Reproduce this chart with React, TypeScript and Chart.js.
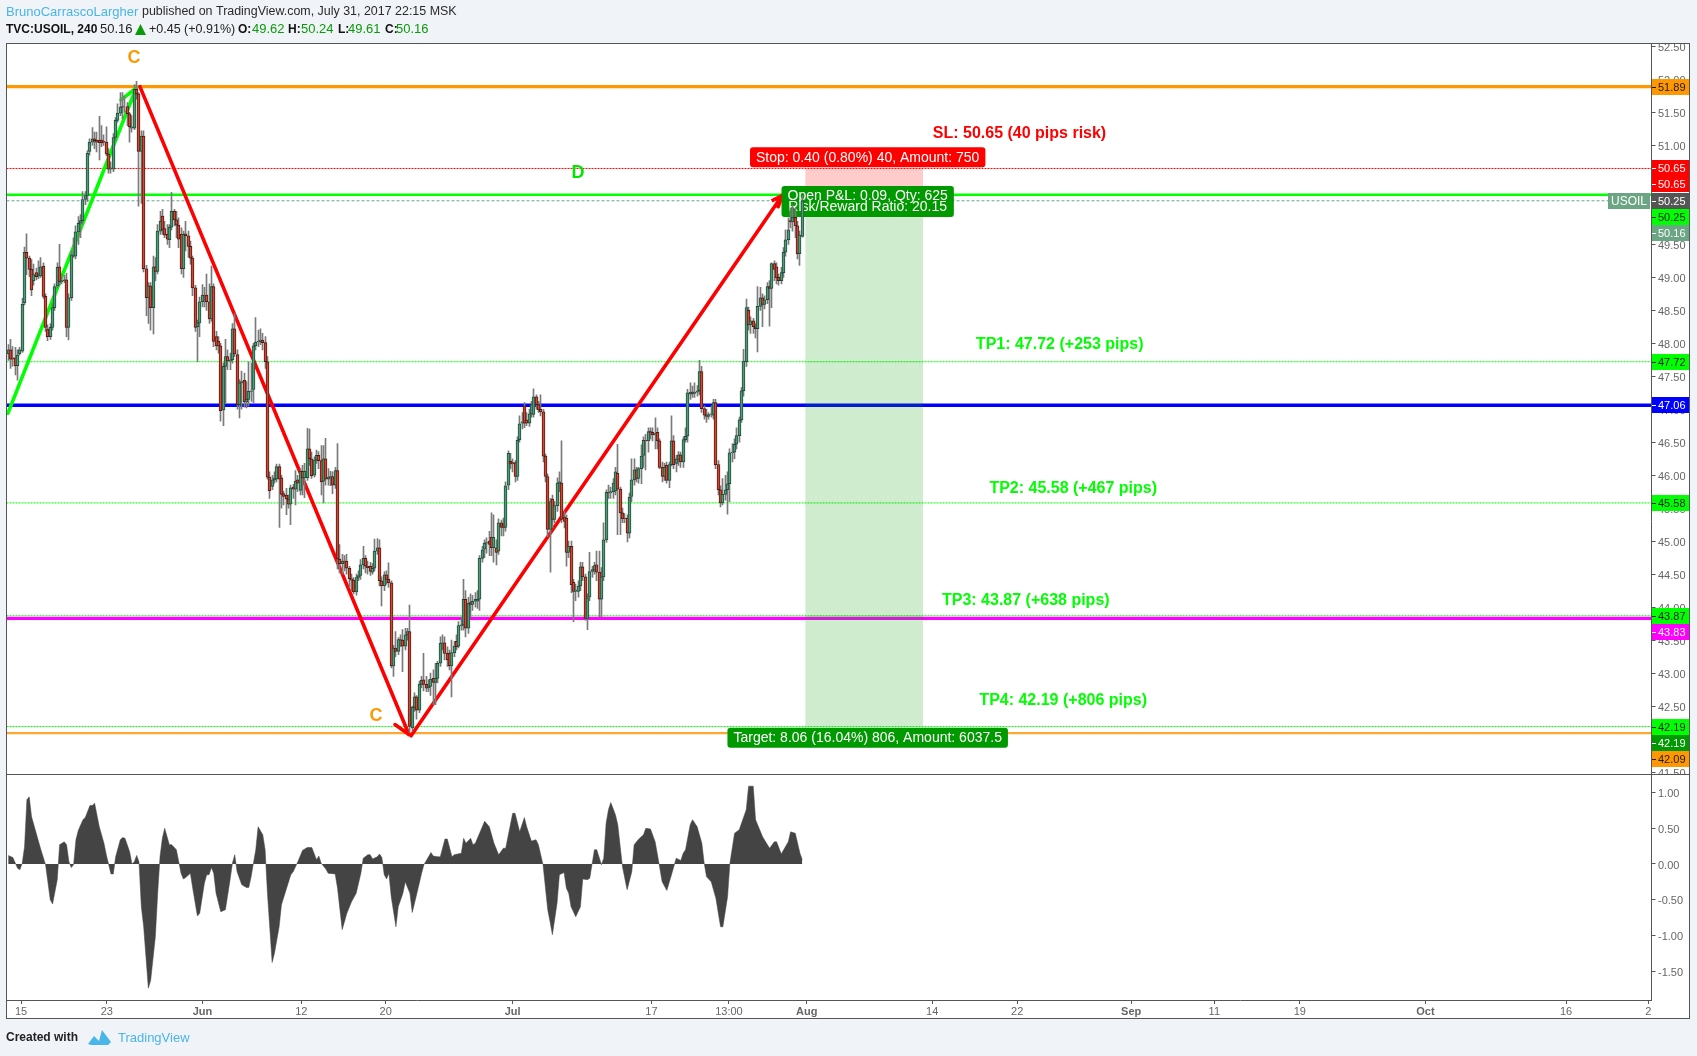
import { useEffect, useRef } from 'react';
import { Chart, registerables } from 'chart.js';
Chart.register(...registerables);

// Candles as [open, close, high, low], one row per 4h bar
const mayBars = [
[47.84,47.90,47.98,47.74],[47.90,47.76,48.06,47.62],[47.78,47.76,47.95,47.65],[47.78,47.66,47.94,47.52],[47.66,47.82,47.90,47.44],[47.84,47.90,47.94,47.82],[47.88,48.59,48.68,47.86],[48.61,49.38,49.46,48.58],[49.38,49.29,49.66,49.04],[49.29,49.12,49.32,49.01],
[49.12,48.81,49.27,48.72],[48.95,49.04,49.20,48.88],[49.07,49.01,49.14,48.96],[49.02,49.05,49.25,48.98],[49.02,49.16,49.30,49.00],[49.17,48.71,49.22,48.68],[48.71,48.24,48.75,48.18],[48.22,48.10,48.28,48.04],[48.10,48.24,48.30,48.06],[48.24,48.54,48.60,48.20],
[48.54,48.86,48.90,48.50],[48.87,49.15,49.22,48.84],[49.16,48.93,49.50,48.88],[48.93,48.95,49.05,48.90],[48.95,48.96,49.03,48.92],[48.96,48.24,49.06,48.10],[48.24,48.69,48.75,48.05],[48.69,49.34,49.40,48.65],[49.32,49.34,49.60,49.30],[49.32,49.69,49.78,49.28],
[49.69,49.82,49.92,49.50],[49.82,49.86,49.95,49.60],[49.86,50.18,50.30,49.80],[50.18,50.24,50.30,50.10],[50.24,50.88,50.92,50.15],[50.91,51.05,51.10,50.85],[51.05,51.10,51.27,51.00],[51.10,51.07,51.20,50.95],[51.08,51.05,51.20,50.90],[51.08,51.04,51.44,50.78],
[51.08,51.04,51.30,50.98],[51.06,51.05,51.16,51.00],[51.05,50.87,51.28,50.84],[50.87,50.64,50.95,50.58],[50.64,50.66,50.75,50.58],[50.64,51.12,51.18,50.60],[51.12,51.38,51.42,51.08],[51.38,51.49,51.63,51.35],[51.49,51.58,51.80,51.45],[51.59,51.58,51.80,51.40],
[51.59,51.59,51.75,51.50],[51.59,51.48,51.65,51.30],[51.48,51.28,51.50,51.05],[51.26,51.28,51.45,51.20],[51.26,51.85,51.92,51.24],[51.85,51.78,51.97,51.70],[51.78,50.91,51.80,50.08],[50.91,51.14,51.22,50.12],[51.14,49.13,51.22,49.08],[49.13,48.69,49.18,48.42],
[48.69,48.87,48.92,48.30],[48.87,48.54,48.92,48.20],[48.54,49.16,49.32,48.14],[49.16,49.09,49.30,48.95],[49.09,49.70,49.80,49.05],[49.70,49.85,50.00,49.65],[49.93,49.72,50.03,49.65],[49.74,49.64,49.85,49.60],[49.65,49.58,49.80,49.50],[49.57,49.76,49.80,49.45],
[49.76,50.00,50.29,49.72],[50.00,49.87,50.03,49.78],[49.87,49.79,50.00,49.60],[49.79,49.58,49.90,49.45],[49.65,49.13,49.75,49.05],[49.13,49.65,49.70,49.00],[49.66,49.63,49.85,49.40],[49.63,49.47,49.70,49.30],[49.47,49.29,49.55,49.20],[49.29,48.84,49.32,48.72],
[48.84,48.24,48.88,48.18],[48.25,48.31,48.35,47.72],[48.31,48.63,48.70,48.10],
];
const juneBars = [
[48.63,48.73,48.89,48.55],[48.73,48.72,48.85,48.55],[48.73,48.63,49.05,48.50],[48.63,48.37,48.90,48.30],[48.37,48.86,49.17,48.33],[48.86,48.03,48.90,47.95],[48.10,47.96,48.18,47.90],[48.03,47.96,48.10,47.85],[47.96,46.98,48.00,46.82],[46.99,47.65,47.70,46.75],
[47.65,47.80,48.06,47.10],[47.80,47.73,47.90,47.60],[47.73,47.75,47.85,47.60],[47.75,48.22,48.30,47.70],[48.22,47.84,48.45,47.80],[47.83,47.07,47.90,47.00],[47.07,47.40,47.45,46.87],[47.40,47.42,47.58,47.00],[47.44,47.11,47.55,47.03],[47.11,47.15,47.42,47.02],
[47.15,47.27,47.72,47.05],[47.27,47.28,47.70,47.12],[47.30,47.96,48.00,47.10],[47.96,48.02,48.39,47.90],[48.02,48.03,48.20,47.95],[48.03,48.05,48.22,47.98],[48.05,48.01,48.15,47.90],[48.01,47.72,48.10,47.62],[47.72,45.97,47.80,45.94],[45.97,45.76,46.05,45.65],
[45.83,45.93,46.00,45.78],[45.93,45.96,46.05,45.88],[45.94,46.13,46.17,45.90],[46.13,45.94,46.17,45.21],[45.96,45.71,46.00,45.50],[45.72,45.68,45.76,45.55],[45.70,45.64,45.80,45.40],[45.64,45.56,45.70,45.50],[45.56,45.81,45.85,45.25],[45.82,45.79,45.86,45.65],
[45.79,45.91,46.07,45.55],[45.93,45.88,46.00,45.75],[45.77,46.06,46.10,45.70],[46.06,45.96,46.15,45.70],[45.96,46.06,46.18,45.66],[45.96,46.40,46.71,45.92],[46.40,46.25,46.70,46.15],[46.25,45.99,46.35,45.95],[46.00,46.23,46.28,45.97],[46.23,46.30,46.38,46.18],
[46.30,46.22,46.36,46.10],[46.22,45.90,46.45,45.70],[45.91,46.25,46.45,45.58],[46.25,45.94,46.56,45.85],[45.94,45.97,46.10,45.85],[45.97,45.98,46.06,45.84],[45.98,45.85,46.05,45.72],[45.85,46.07,46.12,45.80],[46.07,44.73,46.48,44.58],[44.73,44.66,44.95,44.52],
[44.66,44.70,44.80,44.50],[44.70,44.68,44.78,44.55],[44.70,44.59,44.80,44.50],[44.59,44.43,44.62,44.30],[44.43,44.41,44.50,44.25],[44.41,44.23,44.45,44.20],[44.23,44.45,44.50,44.18],[44.45,44.48,44.55,44.40],[44.48,44.64,44.72,44.42],[44.64,44.74,44.92,44.58],
[44.74,44.62,44.78,44.52],[44.62,44.60,44.70,44.50],[44.62,44.54,44.68,44.48],[44.53,44.59,44.66,44.50],[44.59,44.85,45.03,44.55],[44.85,44.90,45.04,44.80],[44.90,44.40,45.02,44.32],[44.40,44.32,44.46,44.02],[44.32,44.49,44.54,44.25],[44.49,44.42,44.55,44.35],
[44.42,44.37,44.67,44.30],[44.37,43.11,44.40,43.08],[43.11,43.38,43.42,42.95],[43.38,43.33,43.63,43.25],[43.33,43.51,43.54,43.28],[43.51,43.50,43.58,43.40],[43.50,43.41,43.66,43.02],[43.41,43.58,43.68,43.35],[43.58,43.63,43.68,43.50],[43.63,42.19,44.03,42.10],
[42.17,42.48,42.50,42.12],[42.48,42.64,42.70,42.42],[42.64,42.44,42.66,42.30],[42.44,42.83,42.88,42.40],[42.83,42.89,42.95,42.78],[42.90,42.83,43.30,42.73],[42.83,42.77,42.95,42.72],[42.78,42.80,42.90,42.72],[42.80,42.91,43.00,42.66],[42.92,42.86,43.05,42.52],
[42.86,42.92,43.15,42.52],[42.92,43.15,43.18,42.85],[43.15,43.45,43.55,43.10],[43.45,43.46,43.58,43.35],[43.46,43.30,43.55,43.20],[43.30,43.20,43.40,43.10],[43.30,43.11,43.35,43.05],[43.11,43.31,43.50,42.64],[43.31,43.41,43.48,43.25],[43.48,43.40,43.58,43.35],
[43.41,43.72,43.78,43.38],[43.72,43.73,43.85,43.65],[43.73,44.12,44.42,43.65],[44.12,43.68,44.25,43.55],[43.68,44.06,44.15,43.60],[44.07,44.04,44.20,43.85],[44.04,44.09,44.18,43.95],[44.09,44.12,44.22,44.00],[44.09,44.12,44.25,43.98],[44.12,44.74,44.78,43.95],
[44.74,44.87,44.92,44.68],[44.88,44.97,45.02,44.75],[44.97,44.98,45.05,44.82],
];
const julyBars = [
[45.00,44.95,45.15,44.78],[45.06,44.90,45.43,44.78],[44.90,45.06,45.40,44.68],[44.90,44.83,45.02,44.64],[44.85,45.28,45.34,44.80],[45.28,45.21,45.32,45.08],[45.25,45.21,45.35,45.08],[45.21,45.84,45.90,45.15],[45.85,46.33,46.37,45.78],[46.21,46.17,46.33,46.10],
[46.19,46.17,46.25,46.05],[46.19,45.98,46.22,45.90],[45.98,46.53,46.58,45.92],[46.54,46.78,46.90,46.50],[46.79,46.81,46.95,46.70],[47.05,46.79,47.10,46.72],[46.84,46.79,46.95,46.75],[46.79,46.93,47.00,46.74],[46.93,47.07,47.12,46.88],[46.92,47.19,47.31,46.88],
[47.19,47.07,47.22,47.00],[47.07,46.99,47.12,46.95],[47.00,46.96,47.22,46.90],[46.96,46.29,47.00,46.20],[46.29,45.98,46.32,45.90],[45.98,45.18,46.02,45.07],[45.18,45.60,45.65,44.53],[45.64,45.33,45.70,45.20],[45.33,45.54,45.60,45.28],[45.54,45.88,45.96,45.45],
[45.88,45.90,46.05,45.75],[45.88,45.33,46.52,45.28],[45.37,45.30,45.45,45.20],[45.35,44.83,45.40,44.62],[44.83,44.92,45.00,44.75],[44.92,44.34,45.00,44.22],[44.38,44.24,44.42,43.78],[44.24,44.26,44.35,44.10],[44.24,44.32,44.40,44.15],[44.32,44.61,44.68,44.25],
[44.61,44.46,44.68,44.40],[44.46,43.83,44.50,43.80],[43.83,44.14,44.20,43.66],[44.15,44.54,44.83,44.10],[44.54,44.57,44.62,44.45],[44.56,44.63,44.68,44.50],[44.64,44.53,44.85,44.40],[44.53,44.12,44.85,43.85],[44.12,44.46,44.60,43.85],[44.46,45.02,45.28,44.40],
[45.02,45.74,45.78,44.98],[45.74,45.73,45.85,45.65],[45.73,45.75,45.82,45.65],[45.75,45.88,45.95,45.65],[45.76,46.05,46.12,45.70],[46.03,45.79,46.47,45.10],[45.79,45.43,45.82,45.10],[45.43,45.34,45.50,45.28],[45.35,45.34,45.42,45.28],[45.35,45.12,45.40,44.99],
[45.12,45.67,45.73,45.05],[45.68,45.93,46.25,45.60],[45.93,46.08,46.25,45.85],[46.08,45.95,46.12,45.90],[45.95,46.10,46.12,45.88],[46.10,46.29,46.46,45.87],[46.30,46.53,46.58,46.12],[46.53,46.52,46.62,46.08],[46.52,46.66,46.72,46.35],[46.66,46.64,46.72,46.55],
[46.65,46.61,46.72,46.52],[46.61,46.63,46.87,46.40],[46.65,46.52,46.72,46.40],[46.52,46.12,46.55,46.10],[46.12,45.98,46.20,45.90],[45.98,46.12,46.18,45.92],[46.15,45.92,46.20,45.88],[45.92,46.16,46.20,45.81],[46.16,46.52,46.90,46.14],[46.52,46.16,46.60,46.10],
[46.18,46.25,46.30,46.05],[46.24,46.31,46.36,46.15],[46.31,46.20,46.35,46.12],[46.20,46.54,46.58,46.12],[46.54,46.59,46.72,46.50],[46.59,47.25,47.30,46.50],[47.23,47.26,47.40,47.15],[47.26,47.24,47.35,47.18],[47.24,47.26,47.40,47.18],[47.26,47.28,47.36,47.20],
[47.28,47.57,47.74,47.22],[47.57,47.01,47.65,46.95],[47.01,46.91,47.05,46.85],[46.91,46.89,47.00,46.80],[46.89,46.92,46.95,46.85],[46.92,46.93,47.05,46.88],[46.91,47.10,47.15,46.85],[47.10,46.16,47.15,46.10],[46.16,45.78,46.22,45.70],[45.78,45.58,45.84,45.52],
[45.58,45.71,45.95,45.55],[45.71,45.78,46.00,45.62],[45.78,45.87,46.05,45.41],[45.87,46.34,46.40,45.60],[46.34,46.35,46.48,46.20],[46.35,46.47,46.55,46.25],[46.47,46.60,46.72,46.40],[46.60,46.84,46.88,46.50],[46.84,47.28,47.33,46.80],[47.28,47.73,47.91,47.20],
[47.72,48.54,48.67,47.65],[48.50,48.28,48.55,48.20],[48.28,48.34,48.40,48.15],[48.34,48.25,48.38,48.15],[48.25,48.22,48.30,48.08],[48.22,48.56,48.86,47.87],[48.56,48.69,48.85,48.50],[48.69,48.59,48.75,48.25],[48.59,48.66,48.72,48.52],[48.66,48.86,48.92,48.60],
[48.86,48.83,48.95,48.26],[48.83,49.21,49.22,48.54],[49.21,49.12,49.25,48.95],[49.16,48.99,49.22,48.90],[49.00,48.95,49.05,48.88],[48.95,49.07,49.15,48.90],[49.07,49.38,49.45,49.00],[49.38,49.57,49.72,49.32],[49.57,49.72,49.90,49.50],[49.86,49.84,50.05,49.75],
[49.84,49.91,50.10,49.70],[49.91,49.78,50.05,49.60],[49.78,49.36,49.85,49.28],[49.36,49.64,49.70,49.18],[49.62,50.16,50.24,49.61],
];

const oscBars = [0,2,4,5,6,7,8,9,10,12,14,16,18,19,21,22,24,25,26,27,28,29,30,32,33,35,36,37,39,41,42,44,45,46,48,49,50,52,53,54,55,56,57,58,60,61,63,64,65,66,67,69,70,72,74,75,76,78,79,81,82,84,85,86,87,88,89,91,93,95,96,97,98,100,102,103,104,106,107,109,110,111,113,114,116,117,119,121,122,124,126,128,130,132,133,134,136,137,140,141,143,145,147,149,151,152,154,155,156,158,159,160,161,162,163,164,166,167,169,170,172,173,175,177,178,181,182,184,185,187,188,190,191,194,195,196,198,199,200,204,206,208,210,212,213,216,217,219,221,222,224,226,227,229,231,232,233,235,236,238,239,240,241,243,245,246,248,249,251,252,254,255,256,257,258,260,261,263,265,267,268,270,272,273,275,277,278,280,282,284,286,288,289,290,292,293,295,297,298,299,301,303,305,306,308,309,311,313,316,317,319,320,323,326,328,329,331,334,335,337,339,340];
const oscValues = [.12,.09,-.06,-.08,.01,.24,.90,.94,.66,.43,.20,-.01,-.50,-.56,-.22,.27,.31,.27,.03,-.05,-.01,.34,.47,.62,.65,.82,.82,.85,.52,.29,.13,-.14,-.14,.10,.34,.37,.36,.17,0,.03,.12,.03,-.60,-.88,-1.74,-1.63,-1.02,-.41,.10,.36,.50,.27,.27,.20,-.13,-.21,-.19,-.13,-.34,-.73,-.69,-.27,-.15,-.15,-.05,-.13,-.41,-.67,-.64,-.22,.01,.13,-.11,-.29,-.33,-.33,-.18,.20,.52,.41,.20,-.41,-1.38,-1.25,-.88,-.57,-.36,-.15,-.11,.03,.19,.23,.23,.06,.11,.01,-.07,-.13,-.14,-.34,-.92,-.69,-.53,-.41,-.13,.08,.13,.13,.07,.10,.14,.09,-.15,-.21,-.13,-.46,-.88,-.60,-.41,-.25,-.41,-.68,-.41,-.13,-.01,.16,.11,.10,.10,.35,.35,.10,.13,.15,.36,.29,.36,.27,.29,.60,.52,.29,.13,.22,.22,.71,.71,.45,.65,.52,.32,.34,.27,-.01,-.64,-.81,-.99,-.55,-.15,-.12,-.34,-.41,-.60,-.74,-.60,-.21,-.22,-.20,.20,.20,-.01,.08,.57,.76,.86,.69,.55,-.04,-.36,-.11,.27,.35,.41,.50,.49,.31,.13,-.25,-.37,-.15,.08,.05,.15,.20,.55,.62,.52,.29,.01,-.18,-.25,-.48,-.88,-.88,-.46,.01,.43,.48,.76,1.09,1.09,.62,.38,.22,.31,.31,.14,.31,.45,.43,.15,.06];

const priceTicks = [52.5,52,51.5,51,50.5,50,49.5,49,48.5,48,47.5,47,46.5,46,45.5,45,44.5,44,43.5,43,42.5,42,41.5];
const oscTicks = [1,0.5,0,-0.5,-1,-1.5];
const timeTickBars = [5.5,42.2,83.2,125.5,161.6,216,275.4,308.6,341.9,395.6,432,480.8,516.4,553,606.8,667,702.2];
const timeTickLabels = ['15','23','Jun','12','20','Jul','17','13:00','Aug','14','22','Sep','11','19','Oct','16','2'];
const monthLabels = ['Jun','Jul','Aug','Sep','Oct'];

const levelPrices = [51.89,50.65,50.25,50.16,47.72,47.06,45.58,43.87,43.83,42.19,42.09];
const levelStyles = [
  { color:'#ff9800', width:3.4, dash:[] },
  { color:'#ff0000', width:1, dash:[2,1] },
  { color:'#00ff00', width:2.5, dash:[] },
  { color:'#6ba583', width:1, dash:[3,2] },
  { color:'#00ff00', width:1, dash:[2,1] },
  { color:'#0000ff', width:3.4, dash:[] },
  { color:'#00ff00', width:1, dash:[2,1] },
  { color:'#00ff00', width:1, dash:[2,1] },
  { color:'#ff00ff', width:3.4, dash:[] },
  { color:'#00ff00', width:1, dash:[2,1] },
  { color:'#ffa733', width:2.4, dash:[] },
];

const greenWaveBars = [-0.1,54.8,48.3]; const greenWavePrices = [46.94,51.87,51.69];
const redDownBars = [56.4,171.6,165.6]; const redDownPrices = [51.89,42.07,42.22];
const redUpBars = [172.5,331.4,326.9,331.4,329.7]; const redUpPrices = [42.05,50.24,50.16,50.24,50.07];

const X_MIN = -0.73, X_MAX = 703.6;
const FONT = '"Liberation Sans", Arial, sans-serif';
const allBars = [...mayBars, ...juneBars, ...julyBars];

const axisLabels = [
  { text:'51.89', value:51.89, shift:0, bg:'#ff9800', fg:'#1a1a1a' },
  { text:'50.65', value:50.65, shift:0, bg:'#ff0000', fg:'#ffffff' },
  { text:'50.65', value:50.65, shift:16, bg:'#ff0000', fg:'#ffffff' },
  { text:'50.25', value:50.25, shift:6, bg:'#555555', fg:'#ffffff' },
  { text:'50.25', value:50.25, shift:22, bg:'#00ff00', fg:'#1a1a1a' },
  { text:'50.16', value:50.16, shift:32, bg:'#6ba583', fg:'#ffffff' },
  { text:'47.72', value:47.72, shift:0, bg:'#00ff00', fg:'#1a1a1a' },
  { text:'47.06', value:47.06, shift:0, bg:'#0000ff', fg:'#ffffff' },
  { text:'45.58', value:45.58, shift:0, bg:'#00ff00', fg:'#1a1a1a' },
  { text:'43.87', value:43.87, shift:0, bg:'#00ff00', fg:'#1a1a1a' },
  { text:'43.83', value:43.83, shift:14, bg:'#ff00ff', fg:'#ffffff' },
  { text:'42.19', value:42.19, shift:0, bg:'#00ff00', fg:'#1a1a1a' },
  { text:'42.19', value:42.19, shift:16, bg:'#009900', fg:'#ffffff' },
  { text:'42.09', value:42.09, shift:26, bg:'#ff9800', fg:'#1a1a1a' },
];
const notes = [
  { text:'C', bar:53.9, price:52.34, color:'#ff9800', size:18 },
  { text:'C', bar:157.5, price:42.37, color:'#ff9800', size:18 },
  { text:'D', bar:244, price:50.6, color:'#00e600', size:18 },
  { text:'SL: 50.65 (40 pips risk)', bar:433, price:51.2, color:'#ff0000', size:16 },
  { text:'TP1: 47.72 (+253 pips)', bar:450.2, price:48.0, color:'#00ff00', size:16 },
  { text:'TP2: 45.58 (+467 pips)', bar:456, price:45.82, color:'#00ff00', size:16 },
  { text:'TP3: 43.87 (+638 pips)', bar:435.7, price:44.12, color:'#00ff00', size:16 },
  { text:'TP4: 42.19 (+806 pips)', bar:451.7, price:42.61, color:'#00ff00', size:16 },
];
const tags = [
  { lines:['Stop: 0.40 (0.80%) 40, Amount: 750'], bar:368, price:50.82, bg:'#ff0000' },
  { lines:['Open P&L: 0.09, Qty: 625','Risk/Reward Ratio: 20.15'], bar:368, price:50.15, bg:'#009900' },
  { lines:['Target: 8.06 (16.04%) 806, Amount: 6037.5'], bar:368, price:42.02, bg:'#009900' },
];
const header1 = [
  { text:'BrunoCarrascoLargher', x:6, color:'#4ab5e8', size:13, bold:false },
  { text:'published on TradingView.com, July 31, 2017 22:15 MSK', x:142, color:'#2a2a2a', size:12.45, bold:false },
];
const header2 = [
  { text:'TVC:USOIL, 240', x:6, color:'#111', size:12, bold:true },
  { text:'50.16', x:100, color:'#222', size:13, bold:false },
  { text:'+0.45 (+0.91%)', x:149, color:'#222', size:12.5, bold:false },
  { text:'O:', x:238, color:'#111', size:12, bold:true },
  { text:'49.62', x:252, color:'#0a9a0a', size:13, bold:false },
  { text:'H:', x:288, color:'#111', size:12, bold:true },
  { text:'50.24', x:301, color:'#0a9a0a', size:13, bold:false },
  { text:'L:', x:338, color:'#111', size:12, bold:true },
  { text:'49.61', x:348, color:'#0a9a0a', size:13, bold:false },
  { text:'C:', x:385, color:'#111', size:12, bold:true },
  { text:'50.16', x:396, color:'#0a9a0a', size:13, bold:false },
];

function line(bars: number[], prices: number[], color: string, width: number, order: number) {
  return { type:'line', data:bars.map((x,i)=>({x,y:prices[i]})), borderColor:color, borderWidth:width,
    pointRadius:0, tension:0, order, xAxisID:'x', yAxisID:'y', fill:false, borderCapStyle:'round' };
}
function drawTag(ctx: any, chart: any, tag: any) {
  const { x, y } = chart.scales;
  const cx = x.getPixelForValue(tag.bar), cy = y.getPixelForValue(tag.price);
  ctx.font = `14px ${FONT}`;
  const w = Math.max(...tag.lines.map((l: string) => ctx.measureText(l).width)) + 12;
  const h = tag.lines.length === 1 ? 20 : 31;
  ctx.fillStyle = tag.bg;
  ctx.beginPath();
  ctx.roundRect(cx - w/2, cy - h/2, w, h, 3);
  ctx.fill();
  ctx.fillStyle = '#fff'; ctx.textAlign='center'; ctx.textBaseline='middle';
  tag.lines.forEach((l: string, i: number) => {
    const off = tag.lines.length === 1 ? 0.5 : (i === 0 ? -5.5 : 6);
    ctx.fillText(l, cx, cy + off);
  });
}

const overlay = {
  id:'overlay',
  afterDatasetsUpdate(chart: any) {
    // snap candle bodies and wicks to whole pixels
    chart.data.datasets.forEach((d: any, i: number) => {
      if (d.label !== 'bodies' && d.label !== 'wicks') return;
      chart.getDatasetMeta(i).data.forEach((el: any) => { el.x = Math.floor(el.x) + 0.5; });
    });
  },
  beforeDraw(chart: any) {
    const c = chart.ctx;
    c.save(); c.fillStyle='#fff'; c.fillRect(6,43,1684,976); c.restore();
  },
  beforeDatasetDraw(chart: any, args: any) {
    if (chart.data.datasets[args.index].label !== 'wicks') return;
    const c = chart.ctx;
    c.save();
    tags.forEach(t => drawTag(c, chart, t));
    c.restore();
  },
  afterDraw(chart: any) {
    const c = chart.ctx, { x, y } = chart.scales;
    c.save();
    // clip overflowing tick text at pane edges
    c.fillStyle='#f0f3f7'; c.fillRect(1652,30,38,13);
    c.fillStyle='#fff'; c.fillRect(1652,775,38,7);
    // USOIL tag
    c.fillStyle='#6ba583'; c.fillRect(1608,193,42,16);
    c.fillStyle='#fff'; c.font=`12px ${FONT}`; c.textAlign='center'; c.textBaseline='middle';
    c.fillText('USOIL',1629,201.5);
    // price axis tags
    c.font=`11px ${FONT}`;
    axisLabels.forEach(l => {
      const py = Math.round(y.getPixelForValue(l.value)) + l.shift;
      c.fillStyle=l.bg; c.fillRect(1651,py-8,39,16);
      c.fillStyle=l.fg; c.fillRect(1652,py,4,1);
      c.textAlign='left'; c.fillText(l.text,1658,py+0.5);
    });
    // frame
    c.strokeStyle='#555'; c.lineWidth=1;
    c.strokeRect(6.5,43.5,1683,975);
    c.beginPath();
    c.moveTo(1651.5,43); c.lineTo(1651.5,1000);
    c.moveTo(6,1000.5); c.lineTo(1652,1000.5);
    c.moveTo(6,774.5); c.lineTo(1690,774.5);
    c.stroke();
    // chart notes
    notes.forEach(n => {
      c.fillStyle=n.color; c.font=`bold ${n.size}px ${FONT}`; c.textAlign='center'; c.textBaseline='middle';
      c.fillText(n.text, x.getPixelForValue(n.bar), y.getPixelForValue(n.price)+1.5);
    });
    // header
    c.textAlign='left'; c.textBaseline='middle';
    header1.forEach(t => { c.fillStyle=t.color; c.font=`${t.bold?'bold ':''}${t.size}px ${FONT}`; c.fillText(t.text,t.x,12); });
    header2.forEach(t => { c.fillStyle=t.color; c.font=`${t.bold?'bold ':''}${t.size}px ${FONT}`; c.fillText(t.text,t.x,29.5); });
    c.fillStyle='#0a9a0a'; c.beginPath(); c.moveTo(135,35); c.lineTo(146,35); c.lineTo(140.5,24); c.closePath(); c.fill();
    // footer
    c.fillStyle='#222'; c.font=`bold 12px ${FONT}`; c.fillText('Created with',6,1038);
    c.fillStyle='#4ab5e8'; c.font=`13px ${FONT}`; c.fillText('TradingView',118,1038.5);
    c.beginPath();
    c.moveTo(88,1044); c.lineTo(94,1036); c.lineTo(99,1041); c.lineTo(102,1030); c.lineTo(111,1042); c.lineTo(108,1045); c.lineTo(91,1045); c.closePath(); c.fill();
    c.restore();
  },
};

export default function App() {
  const ref = useRef<HTMLCanvasElement>(null);
  useEffect(() => {
    const levels = levelPrices.map((p,i) => {
      const d: any = line([X_MIN,X_MAX],[p,p],levelStyles[i].color,levelStyles[i].width,50);
      d.borderDash = levelStyles[i].dash; d.borderCapStyle='butt';
      return d;
    });
    const up = (i: number) => allBars[i][1] >= allBars[i][0];
    const chart = new Chart(ref.current as any, {
      type:'bar',
      data:{ datasets:[
        { label:'bodies', data:allBars.map((b,i)=>({x:i,y:[b[0],b[1]]})), barThickness:3, grouped:false, order:1, xAxisID:'x', yAxisID:'y',
          backgroundColor:(c:any)=>up(c.dataIndex)?'#539a78':'#d5452f', borderColor:(c:any)=>up(c.dataIndex)?'#1d4d3a':'#4f1a14', borderWidth:1, borderSkipped:false },
        { label:'wicks', data:allBars.map((b,i)=>({x:i,y:[b[3],b[2]]})), barThickness:1, grouped:false, order:2, xAxisID:'x', yAxisID:'y', backgroundColor:'#7a7a7a' },
        line(greenWaveBars.slice(0,2),greenWavePrices.slice(0,2),'#00ff00',3.6,10),
        line([greenWaveBars[2],greenWaveBars[1]],[greenWavePrices[2],greenWavePrices[1]],'#00ff00',3.6,10),
        line(redDownBars.slice(0,2),redDownPrices.slice(0,2),'#ff0000',3.6,10),
        line([redDownBars[2],redDownBars[1]],[redDownPrices[2],redDownPrices[1]],'#ff0000',3.6,10),
        line(redUpBars,redUpPrices,'#ff0000',3.6,10),
        ...levels,
        { label:'risk', data:[{x:366.5,y:[50.25,50.65]}], barThickness:117, grouped:false, order:20, xAxisID:'x', yAxisID:'y', backgroundColor:'rgba(255,0,0,0.2)' },
        { label:'reward', data:[{x:366.5,y:[42.19,50.25]}], barThickness:117, grouped:false, order:20, xAxisID:'x', yAxisID:'y', backgroundColor:'rgba(0,153,0,0.19)' },
        { type:'line', label:'osc', data:oscBars.map((x,i)=>({x,y:oscValues[i]})), xAxisID:'x', yAxisID:'y2', borderColor:'#444', borderWidth:0.5, backgroundColor:'#444444', pointRadius:0, tension:0, fill:{value:0}, order:5 },
      ] as any },
      options:{
        animation:false, responsive:false, devicePixelRatio:1, parsing:undefined as any,
        layout:{ padding:{ left:6.5, right:7, top:43, bottom:37 } },
        plugins:{ legend:{display:false}, tooltip:{enabled:false}, title:{display:false}, filler:{propagate:false} as any },
        scales:{
          x:{ type:'linear', min:X_MIN, max:X_MAX, offset:false, border:{display:false},
            grid:{ drawOnChartArea:false, drawTicks:true, tickLength:4, color:'#555', offset:false },
            afterBuildTicks:(s:any)=>{ s.ticks=timeTickBars.map(value=>({value})); },
            afterFit:(s:any)=>{ s.height=19; },
            ticks:{ autoSkip:false, maxRotation:0, padding:1, color:'#666',
              font:(c:any)=>{ const t=timeTickLabels[c.index]; return { family:FONT, size:11, weight: monthLabels.includes(t)?'bold':'normal' } as any; },
              callback:(_v:any,i:number)=>timeTickLabels[i] } },
          y:{ type:'linear', position:'right', stack:'panes', stackWeight:731.5, weight:1, min:41.463, max:52.552, border:{display:false},
            grid:{ drawOnChartArea:false, tickLength:4, color:'#555' },
            afterBuildTicks:(s:any)=>{ s.ticks=priceTicks.map(value=>({value})); },
            afterFit:(s:any)=>{ s.width=38.5; },
            ticks:{ autoSkip:false, padding:2.5, labelOffset:1.5, color:'#666', font:{family:FONT,size:11}, callback:(v:any)=>Number(v).toFixed(2) } },
          y2:{ type:'linear', position:'right', stack:'panes', stackWeight:225.5, weight:2, min:-1.905, max:1.253, border:{display:false},
            grid:{ drawOnChartArea:false, tickLength:4, color:'#555' },
            afterBuildTicks:(s:any)=>{ s.ticks=oscTicks.map(value=>({value})); },
            afterFit:(s:any)=>{ s.width=38.5; },
            ticks:{ autoSkip:false, padding:2.5, labelOffset:1.5, color:'#666', font:{family:FONT,size:11}, callback:(v:any)=>Number(v).toFixed(2) } },
        },
      } as any,
      plugins:[overlay as any],
    });
    return () => chart.destroy();
  }, []);
  return (
    <div style={{ position:'fixed', left:0, top:0, width:1697, height:1056, background:'#f0f3f7', overflow:'hidden' }}>
      <canvas ref={ref} width={1697} height={1056} style={{ display:'block' }} />
    </div>
  );
}
